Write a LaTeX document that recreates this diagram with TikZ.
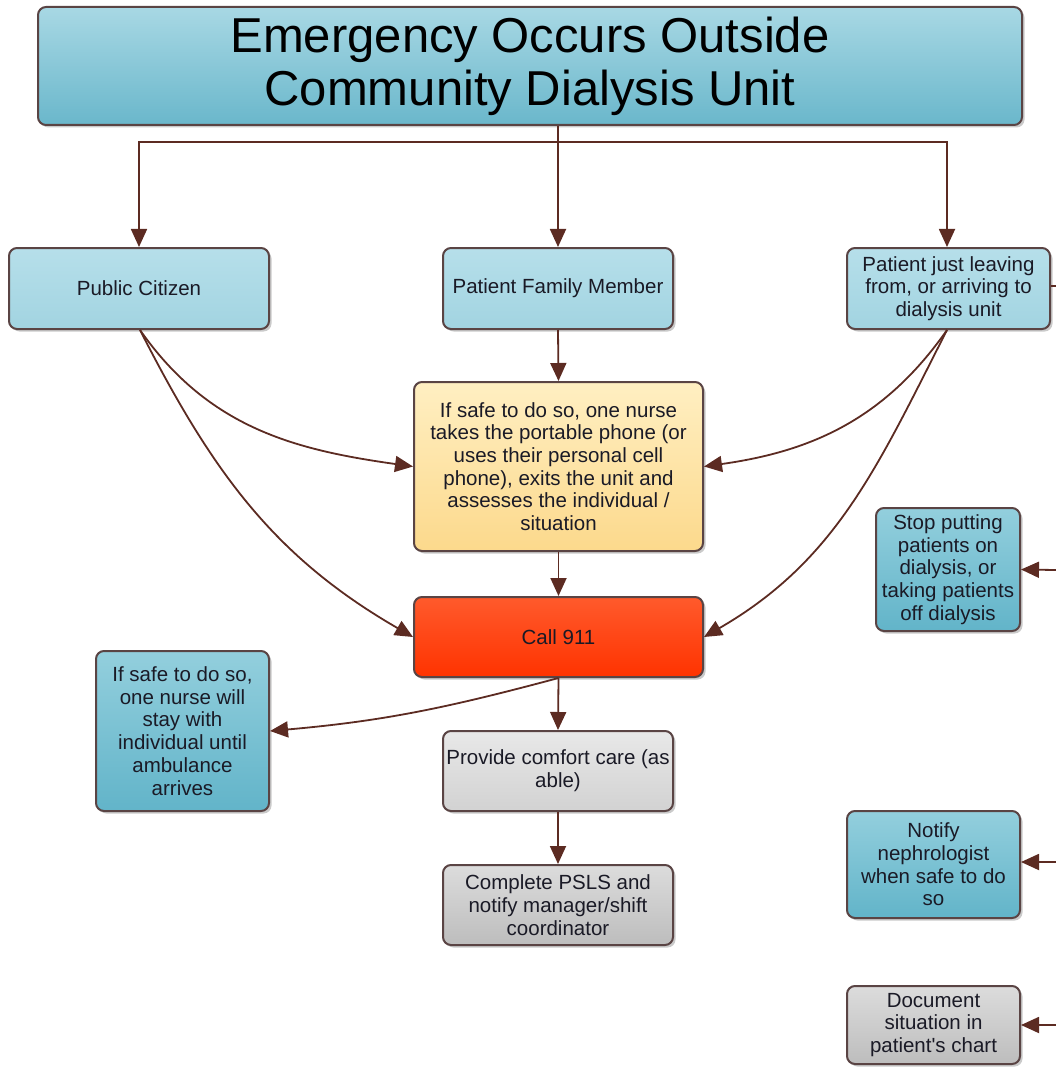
\documentclass[tikz,border=0pt]{standalone}
\usepackage{fontspec}
\setmainfont{Liberation Sans}
\usetikzlibrary{arrows.meta,shadows}
\definecolor{edge}{HTML}{5A4444}
\definecolor{conn}{HTML}{5C2B22}
\definecolor{txt}{HTML}{1A1A26}
\definecolor{lbA}{HTML}{B6DFEA}
\definecolor{lbB}{HTML}{A2D4E1}
\definecolor{mbA}{HTML}{93CFDD}
\definecolor{mbB}{HTML}{62B4C9}
\definecolor{tA}{HTML}{A8D8E4}
\definecolor{tB}{HTML}{6AB7CB}
\definecolor{yA}{HTML}{FFEFC2}
\definecolor{yB}{HTML}{FCD98C}
\definecolor{rA}{HTML}{FF5A2C}
\definecolor{rB}{HTML}{FF3300}
\definecolor{gA}{HTML}{E8E8E8}
\definecolor{gB}{HTML}{D2D2D2}
\definecolor{dgA}{HTML}{DCDCDC}
\definecolor{dgB}{HTML}{BDBDBD}
\tikzset{
  box/.style={draw=edge, line width=2pt, rounded corners=8pt, align=center,
    text=txt, font=\fontsize{20.5}{22.7}\selectfont, inner sep=0pt,
    drop shadow={shadow xshift=2.5pt, shadow yshift=-2.5pt, opacity=0.35, fill=black!60}},
  lightblue/.style={box, top color=lbA, bottom color=lbB},
  midblue/.style={box, top color=mbA, bottom color=mbB},
  titlebox/.style={box, top color=tA, bottom color=tB, font=\fontsize{49}{53}\selectfont, text=black},
  yellowbox/.style={box, top color=yA, bottom color=yB},
  redbox/.style={box, top color=rA, bottom color=rB},
  graybox/.style={box, top color=gA, bottom color=gB},
  darkgray/.style={box, top color=dgA, bottom color=dgB},
  conn/.style={draw=conn, line width=1.8pt, -{Triangle[length=18pt,width=16pt]}},
  plain/.style={draw=conn, line width=1.8pt}
}
\begin{document}
\begin{tikzpicture}[x=1pt,y=1pt]
\useasboundingbox (0,0) rectangle (1056,-1067);
\node[titlebox, minimum width=984pt, minimum height=118pt] (title) at (530,-66) {Emergency Occurs Outside\\Community Dialysis Unit};
\node[lightblue, minimum width=260pt, minimum height=81pt] (pc) at (139,-288.5) {Public Citizen};
\node[lightblue, minimum width=230pt, minimum height=81pt] (pfm) at (558,-288.5) {Patient Family Member};
\node[lightblue, minimum width=203pt, minimum height=81pt] (pjl) at (948.5,-288.5) {Patient just leaving\\from, or arriving to\\dialysis unit};
\node[yellowbox, minimum width=289pt, minimum height=169pt] (yel) at (558.5,-466.5) {If safe to do so, one nurse\\takes the portable phone (or\\uses their personal cell\\phone), exits the unit and\\assesses the individual /\\situation};
\node[redbox, minimum width=289pt, minimum height=80pt] (call) at (558.5,-637) {Call 911};
\node[midblue, minimum width=173pt, minimum height=160pt] (stay) at (182.5,-731) {If safe to do so,\\one nurse will\\stay with\\individual until\\ambulance\\arrives};
\node[graybox, minimum width=230pt, minimum height=80pt] (comf) at (558,-771) {Provide comfort care (as\\able)};
\node[darkgray, minimum width=230pt, minimum height=80pt] (psls) at (558,-905) {Complete PSLS and\\notify manager/shift\\coordinator};
\node[midblue, minimum width=144pt, minimum height=123pt] (stop) at (948,-569.5) {Stop putting\\patients on\\dialysis, or\\taking patients\\off dialysis};
\node[midblue, minimum width=173pt, minimum height=107pt] (notify) at (933.5,-864.5) {Notify\\nephrologist\\when safe to do\\so};
\node[darkgray, minimum width=173pt, minimum height=78pt] (doc) at (933.5,-1025) {Document\\situation in\\patient\textquotesingle s chart};
\coordinate (e1) at (1056,-286);
\coordinate (e2) at (1056,-570);
\coordinate (e3) at (1056,-862);
\coordinate (e4) at (1056,-1025);
% connectors
\draw[conn] ([xshift=28pt]title.south) -- (pfm.north);
\draw[conn] ([xshift=28pt]title.south) ++(0,-16) -| (pc.north);
\draw[conn] ([xshift=28pt]title.south) ++(0,-16) -| ([xshift=-1.5pt]pjl.north);
\draw[conn] (pfm.south) -- (yel.north);
\draw[conn] ([xshift=1pt]pc.south) to[out=-55, in=172] (yel.west);
\draw[conn] ([xshift=1pt]pc.south) to[out=-63, in=150] (call.west);
\draw[conn] ([xshift=-1.5pt]pjl.south) to[out=-125, in=8] (yel.east);
\draw[conn] ([xshift=-1.5pt]pjl.south) to[out=-117, in=30] (call.east);
\draw[conn] (yel.south) -- (call.north);
\draw[conn] (call.south) -- (comf.north);
\draw[conn] (call.south) to[out=195, in=5] (stay.east);
\draw[conn] (comf.south) -- (psls.north);
\draw[plain] ([yshift=2.5pt]pjl.east) -- (e1);
\draw[conn] (e2) -- (stop.east);
\draw[conn] (e3) -- ([yshift=2.5pt]notify.east);
\draw[conn] (e4) -- (doc.east);
\end{tikzpicture}
\end{document}
